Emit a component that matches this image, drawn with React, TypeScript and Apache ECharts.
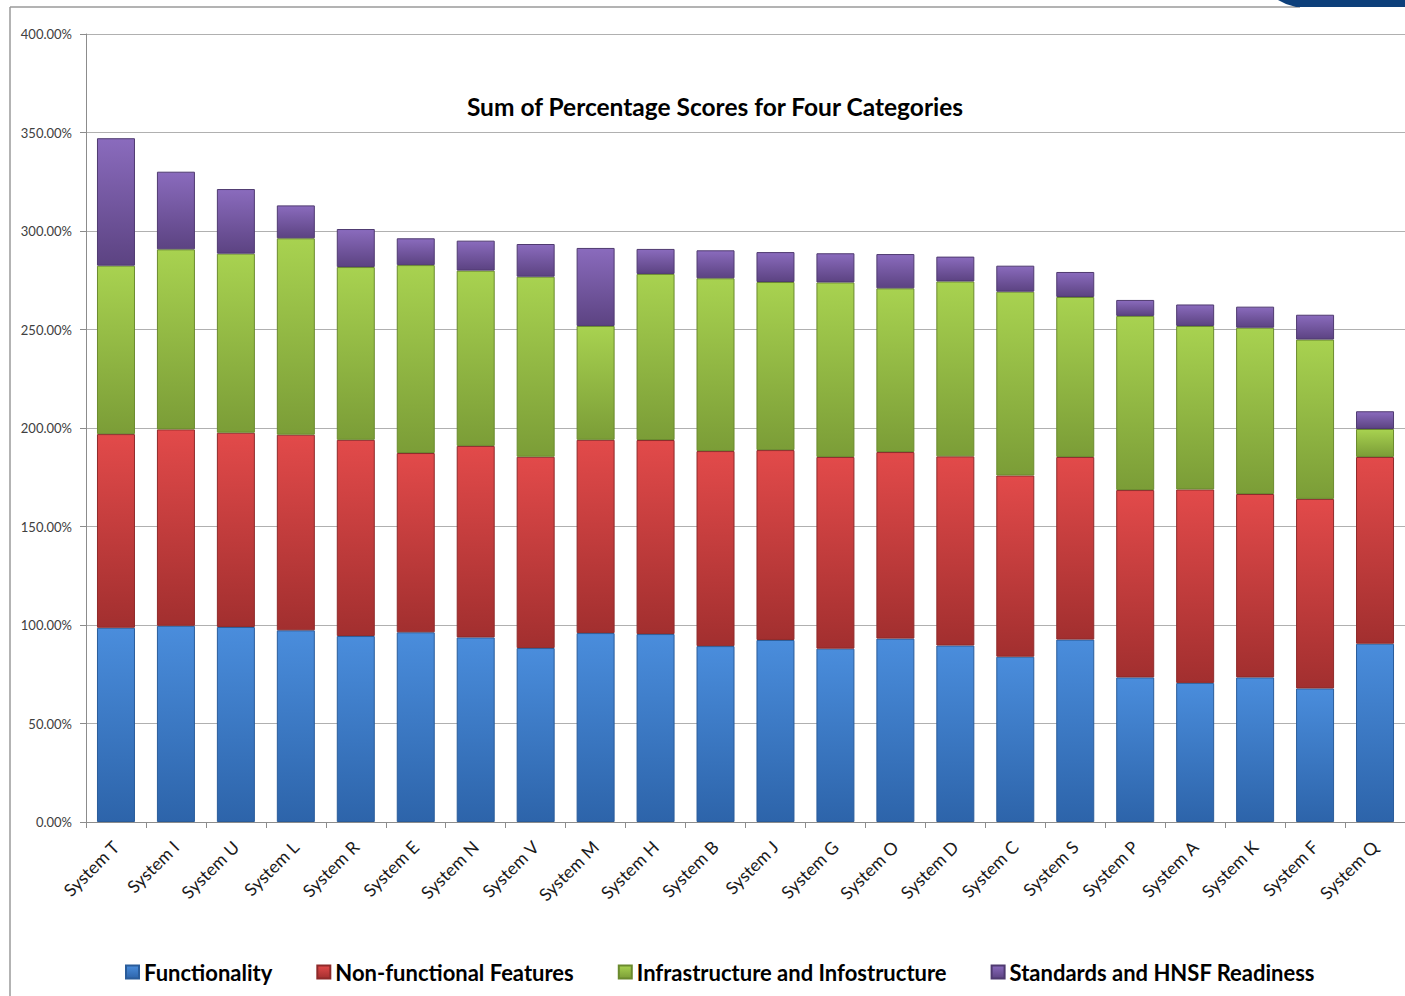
import React, { useEffect, useRef } from "react";
import * as echarts from "echarts";

const categories = [
  "System T", "System I", "System U", "System L", "System R", "System E", "System N", "System V",
  "System M", "System H", "System B", "System J", "System G", "System O", "System D", "System C",
  "System S", "System P", "System A", "System K", "System F", "System Q",
];

const functionality = [98.6, 99.6, 99.0, 97.3, 94.4, 96.3, 93.7, 88.3, 95.9, 95.4, 89.3, 92.4, 88.0, 93.1, 89.6, 83.9, 92.6, 73.4, 70.6, 73.4, 67.8, 90.5];
const nonFunctional = [98.3, 99.7, 98.6, 99.3, 99.6, 91.0, 97.2, 97.1, 98.1, 98.5, 99.0, 96.4, 97.3, 94.7, 96.0, 92.0, 92.7, 95.1, 98.2, 93.1, 96.2, 94.8];
const infrastructure = [85.5, 91.4, 90.9, 99.7, 87.7, 95.4, 89.0, 91.4, 57.8, 84.3, 87.7, 85.3, 88.6, 83.1, 88.8, 93.3, 81.2, 88.4, 83.0, 84.4, 80.9, 14.2];
const standards = [64.7, 39.4, 32.8, 16.7, 19.3, 13.6, 15.2, 16.6, 39.6, 12.7, 14.2, 15.2, 14.8, 17.4, 12.6, 13.2, 12.7, 8.1, 10.9, 10.7, 12.6, 9.0];

const seriesNames = [
  "Functionality",
  "Non-functional Features",
  "Infrastructure and Infostructure",
  "Standards and HNSF Readiness",
];

const palettes = [
  { top: "#4a8ddc", bottom: "#2d64aa", border: "#2a5c9a" },
  { top: "#e24a4a", bottom: "#a22f2f", border: "#8e2a2a" },
  { top: "#a8d250", bottom: "#7b9d37", border: "#6a8a2e" },
  { top: "#8a6bbd", bottom: "#5c4382", border: "#4f3a70" },
];

function grad(p: { top: string; bottom: string }) {
  return new echarts.graphic.LinearGradient(0, 0, 0, 1, [
    { offset: 0, color: p.top },
    { offset: 1, color: p.bottom },
  ]);
}

export default function App() {
  const ref = useRef<HTMLDivElement>(null);
  useEffect(() => {
    if (!ref.current) return;
    const chart = echarts.init(ref.current, undefined, { renderer: "svg" });
    const dataSets = [functionality, nonFunctional, infrastructure, standards];
    const font = "Lato, 'Noto Sans', sans-serif";
    chart.setOption({
      animation: false,
      backgroundColor: "#ffffff",
      title: {
        text: "Sum of Percentage Scores for Four Categories",
        left: 710,
        textAlign: "center",
        top: 89,
        textStyle: { fontFamily: font, fontSize: 24.5, fontWeight: "bold", color: "#000" },
      },
      legend: {
        bottom: 8,
        left: 120,
        itemWidth: 13,
        itemHeight: 13,
        itemGap: 44,
        icon: "rect",
        textStyle: { fontFamily: font, fontSize: 22, fontWeight: "bold", color: "#000" },
        data: seriesNames,
      },
      grid: { left: 86, right: -1, top: 34, bottom: 174, containLabel: false },
      xAxis: {
        type: "category",
        data: categories,
        axisLine: { lineStyle: { color: "#8c8c8c" } },
        axisTick: { show: true, alignWithLabel: false, length: 6, lineStyle: { color: "#8c8c8c" } },
        axisLabel: { rotate: 45, fontFamily: font, fontSize: 17.5, color: "#1a1a1a", margin: 22, interval: 0 },
      },
      yAxis: {
        type: "value",
        min: 0,
        max: 400,
        interval: 50,
        axisLine: { show: true, lineStyle: { color: "#8c8c8c" } },
        axisTick: { show: true, length: 6, lineStyle: { color: "#8c8c8c" } },
        splitLine: { lineStyle: { color: "#b0b0b0" } },
        axisLabel: {
          fontFamily: font,
          fontSize: 13,
          color: "#404040",
          margin: 14,
          formatter: (v: number) => v.toFixed(2) + "%",
        },
      },
      series: dataSets.map((d, i) => ({
        name: seriesNames[i],
        type: "bar",
        stack: "total",
        barWidth: 38,
        data: d,
        itemStyle: {
          color: grad(palettes[i]),
          borderColor: palettes[i].border,
          borderWidth: 1,
        },
      })),
      graphic: [
        { type: "line", shape: { x1: 10, y1: 7, x2: 1300, y2: 7 }, style: { stroke: "#9a9a9a", lineWidth: 1.5 } },
        { type: "line", shape: { x1: 10, y1: 7, x2: 10, y2: 996 }, style: { stroke: "#9a9a9a", lineWidth: 1.5 } },
        {
          type: "polygon",
          shape: { points: [[1278, 0], [1405, 0], [1405, 7], [1296, 7], [1286, 4]] },
          style: { fill: "#0d3f7a" },
        },
      ],
    });
    return () => chart.dispose();
  }, []);
  return (
    <div
      ref={ref}
      style={{ position: "absolute", left: 0, top: 0, width: 1405, height: 996 }}
    />
  );
}
